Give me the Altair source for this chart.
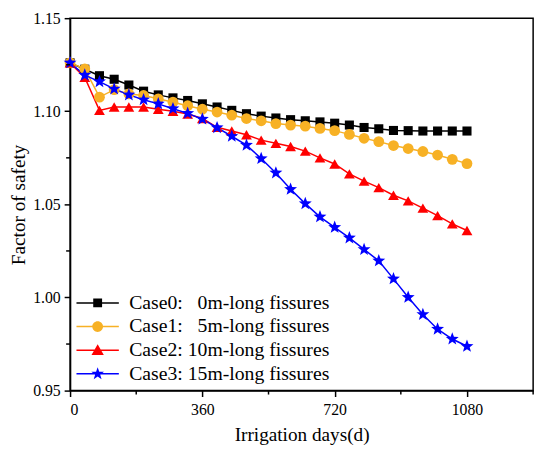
import math
import altair as alt
import pandas as pd

days = list(range(0, 1081, 40))

case0 = [1.1260, 1.1226, 1.1191, 1.1172, 1.1141, 1.1108, 1.1088, 1.1072, 1.1058, 1.1040,
         1.1023, 1.1005, 1.0987, 1.0974, 1.0964, 1.0955, 1.0949, 1.0943, 1.0936, 1.0926,
         1.0913, 1.0906, 1.0897, 1.0896, 1.0894, 1.0894, 1.0894, 1.0894]
case1 = [1.1260, 1.1228, 1.1076, 1.1116, 1.1093, 1.1085, 1.1067, 1.1049, 1.1030, 1.1011,
         1.0996, 1.0979, 1.0961, 1.0949, 1.0934, 1.0926, 1.0920, 1.0908, 1.0896, 1.0876,
         1.0855, 1.0837, 1.0816, 1.0800, 1.0784, 1.0765, 1.0742, 1.0719]
case2 = [1.1260, 1.1182, 1.1005, 1.1023, 1.1023, 1.1023, 1.1011, 1.1000, 1.0985, 1.0961,
         1.0914, 1.0894, 1.0874, 1.0845, 1.0828, 1.0811, 1.0786, 1.0750, 1.0717, 1.0664,
         1.0625, 1.0590, 1.0549, 1.0519, 1.0480, 1.0440, 1.0395, 1.0360]
case3 = [1.1260, 1.1194, 1.1159, 1.1120, 1.1088, 1.1062, 1.1040, 1.1014, 1.0989, 1.0958,
         1.0912, 1.0866, 1.0818, 1.0746, 1.0669, 1.0581, 1.0504, 1.0433, 1.0377, 1.0320,
         1.0258, 1.0197, 1.0100, 1.0001, 0.9909, 0.9830, 0.9777, 0.9738]

labels = [
    "Case0:\u00a0\u00a0\u00a00m-long fissures",
    "Case1:\u00a0\u00a0\u00a05m-long fissures",
    "Case2: 10m-long fissures",
    "Case3: 15m-long fissures",
]
colors = ["#000000", "#F7B125", "#FF0000", "#0000FF"]

x_major = [0, 360, 720, 1080]
x_minor = [180, 540, 900, 1260]
y_major = [0.95, 1.00, 1.05, 1.10, 1.15]
y_minor = [0.975, 1.025, 1.075, 1.125]

rows = []
for lab, vals in zip(labels, [case0, case1, case2, case3]):
    for d, v in zip(days, vals):
        rows.append({"day": d, "fos": v, "case": lab})
df = pd.DataFrame(rows)
xminor_df = pd.DataFrame({"day": x_minor})
yminor_df = pd.DataFrame({"fos": y_minor})


def star(r_out, r_in):
    pts = []
    for i in range(10):
        r = r_out if i % 2 == 0 else r_in
        a = -math.pi / 2 + i * math.pi / 5
        pts.append((r * math.cos(a), r * math.sin(a)))
    return "M" + "L".join(f"{x:.3f},{y:.3f}" for x, y in pts) + "Z"


# legend symbols: thin bar (line) + marker, fill only (unit = sqrt(size)/2)
L = 4.3
bar = f"M{-L},-0.15H{L}V0.15H{-L}Z"
leg_square = bar + "M-0.9,-0.9H0.9V0.9H-0.9Z"
leg_circle = bar + "M1.1,0A1.1,1.1 0 1,1 -1.1,0A1.1,1.1 0 1,1 1.1,0Z"
leg_tri = bar + "M0,-1.2L1.25,0.95H-1.25Z"
leg_star = bar + star(1.35, 0.55)

pt_shapes = ["square", "circle", "triangle-up", star(1.0, 0.42)]
pt_sizes = [85, 120, 120, 190]

FONT = "Liberation Serif"
W, H = 470, 378

xscale = alt.Scale(domain=[0, 1260], nice=False, zero=False)
yscale = alt.Scale(domain=[0.95, 1.15], nice=False, zero=False)

x_ax = alt.Axis(values=x_major, title="Irrigation days(d)", orient="bottom",
                tickSize=6, labelPadding=5, titlePadding=9, format="d")
y_ax = alt.Axis(values=y_major, format=".2f", title="Factor of safety",
                orient="left", tickSize=6, labelPadding=4, titlePadding=4)
X = alt.X("day:Q", scale=xscale, axis=x_ax)
Y = alt.Y("fos:Q", scale=yscale, axis=y_ax)

base = alt.Chart(df)

lines = base.mark_line(strokeWidth=1.5).encode(
    x=X, y=Y,
    color=alt.Color("case:N", scale=alt.Scale(domain=labels, range=colors), legend=None),
    order="day:Q",
)

point_layers = []
for i, lab in enumerate(labels):
    point_layers.append(
        base.transform_filter(alt.datum.case == lab).mark_point(
            filled=True, opacity=1, shape=pt_shapes[i], size=pt_sizes[i], color=colors[i]
        ).encode(x=X, y=Y)
    )

xminor = alt.Chart(xminor_df).mark_rule(color="black", strokeWidth=1.5).encode(
    x=X, y=alt.value(H), y2=alt.value(H + 4))
yminor = alt.Chart(yminor_df).mark_rule(color="black", strokeWidth=1.5).encode(
    y=Y, x=alt.value(0), x2=alt.value(-4))

leg = alt.Legend(title=None, orient="none", legendX=18, legendY=279,
                 labelFont=FONT, labelFontSize=20, labelColor="black",
                 symbolSize=100, symbolOpacity=1, symbolStrokeWidth=0,
                 labelOffset=22, rowPadding=4, padding=0, labelLimit=400)

legend_layer = base.transform_filter("false").mark_point(filled=True, opacity=1).encode(
    x=X, y=Y,
    color=alt.Color("case:N", scale=alt.Scale(domain=labels, range=colors), legend=leg),
    shape=alt.Shape("case:N", scale=alt.Scale(domain=labels,
                    range=[leg_square, leg_circle, leg_tri, leg_star]), legend=leg),
)

chart = alt.layer(lines, *point_layers, xminor, yminor, legend_layer).resolve_scale(
    color="independent", shape="independent"
).properties(
    width=W, height=H,
    background="white",
    autosize=alt.AutoSizeParams(type="none"),
    padding={"left": 63, "top": 7, "right": 9, "bottom": 60},
).configure_view(
    stroke="black", strokeWidth=1.5
).configure_axis(
    grid=False, domainColor="black", domainWidth=1.5, tickColor="black", tickWidth=1.5,
    labelFont=FONT, labelFontSize=16, labelColor="black",
    titleFont=FONT, titleFontSize=19.5, titleFontWeight="normal", titleColor="black",
)

chart.save("out.html", embed_options={"renderer": "svg", "actions": False})
